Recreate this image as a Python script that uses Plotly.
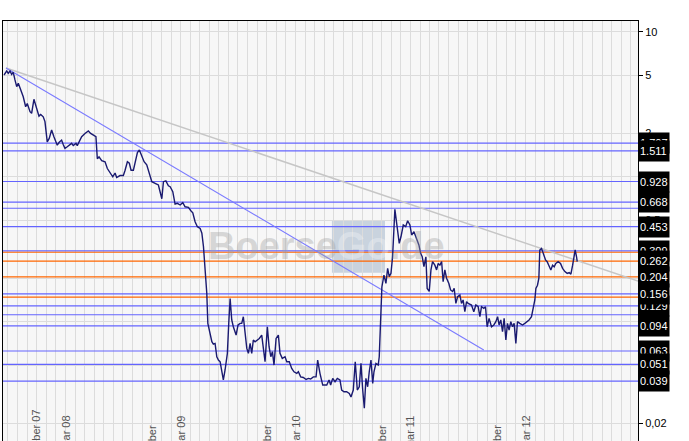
import math
import pandas as pd
import plotly.graph_objects as go

# ---------------- data ----------------
# price series: time as decimal year, price
price_t = [
    2007.464, 2007.487, 2007.501, 2007.516, 2007.530, 2007.544, 2007.559, 2007.574, 2007.588, 2007.609,
    2007.631, 2007.652, 2007.666, 2007.690, 2007.704, 2007.724, 2007.748, 2007.768, 2007.783, 2007.805,
    2007.820, 2007.840, 2007.857, 2007.878, 2007.898, 2007.916, 2007.927, 2007.944, 2007.965, 2007.979,
    2007.994, 2008.014, 2008.037, 2008.052, 2008.066, 2008.090, 2008.101, 2008.118, 2008.139, 2008.168,
    2008.197, 2008.217, 2008.240, 2008.263, 2008.275, 2008.290, 2008.313, 2008.342, 2008.362, 2008.385,
    2008.409, 2008.429, 2008.443, 2008.472, 2008.501, 2008.516, 2008.536, 2008.553, 2008.568, 2008.588,
    2008.603, 2008.623, 2008.640, 2008.661, 2008.681, 2008.704, 2008.724, 2008.748, 2008.777, 2008.805,
    2008.835, 2008.849, 2008.870, 2008.892, 2008.907,
    2008.930, 2008.950, 2008.970, 2008.994, 2009.017, 2009.037, 2009.066, 2009.087, 2009.104, 2009.124,
    2009.144, 2009.168, 2009.183, 2009.197, 2009.211, 2009.226, 2009.235, 2009.249, 2009.270, 2009.283,
    2009.298, 2009.313, 2009.327, 2009.342, 2009.357, 2009.370, 2009.385, 2009.405, 2009.417, 2009.429,
    2009.443, 2009.457, 2009.481, 2009.498, 2009.516, 2009.530, 2009.544, 2009.559, 2009.574, 2009.588,
    2009.603, 2009.617, 2009.631, 2009.646, 2009.666, 2009.683, 2009.704, 2009.718, 2009.733, 2009.753,
    2009.768, 2009.783, 2009.797, 2009.811, 2009.829, 2009.849, 2009.863, 2009.883, 2009.907, 2009.922,
    2009.944, 2009.965, 2009.985, 2010.009, 2010.023, 2010.043, 2010.066, 2010.090, 2010.110, 2010.130,
    2010.153, 2010.177, 2010.191, 2010.211,
    2010.235, 2010.255, 2010.270, 2010.290, 2010.304, 2010.322, 2010.342, 2010.362, 2010.385, 2010.400,
    2010.420, 2010.443, 2010.466, 2010.481, 2010.501, 2010.518, 2010.536, 2010.553, 2010.568, 2010.583,
    2010.597, 2010.611, 2010.626, 2010.640, 2010.655, 2010.670, 2010.681, 2010.698, 2010.718, 2010.727,
    2010.739, 2010.750, 2010.768, 2010.785, 2010.800, 2010.814, 2010.829, 2010.843, 2010.863, 2010.883,
    2010.901, 2010.916, 2010.936, 2010.957, 2010.974, 2010.994, 2011.009, 2011.029, 2011.052, 2011.072,
    2011.087, 2011.101, 2011.116, 2011.133, 2011.144, 2011.162, 2011.177, 2011.191, 2011.211, 2011.226,
    2011.240, 2011.255, 2011.270, 2011.283, 2011.298, 2011.313, 2011.333, 2011.348, 2011.365, 2011.379,
    2011.394, 2011.409, 2011.429, 2011.443, 2011.457, 2011.472, 2011.487,
    2011.501, 2011.530, 2011.550, 2011.568, 2011.588, 2011.603, 2011.617, 2011.637, 2011.652, 2011.666,
    2011.683, 2011.704, 2011.724, 2011.742, 2011.757, 2011.770, 2011.785, 2011.800, 2011.814, 2011.829,
    2011.843, 2011.857, 2011.872, 2011.887, 2011.901, 2011.916, 2011.930, 2011.950, 2011.974, 2011.994,
    2012.014, 2012.031, 2012.052, 2012.066, 2012.081, 2012.090, 2012.104, 2012.116, 2012.124, 2012.139,
    2012.153, 2012.174, 2012.188, 2012.203, 2012.220, 2012.235, 2012.249, 2012.263, 2012.283, 2012.304,
    2012.322, 2012.342, 2012.362, 2012.379, 2012.394, 2012.409, 2012.423, 2012.431, 2012.443, 2012.449,
]
price_v = [
    5.03, 5.36, 5.17, 5.36, 5.08, 5.25, 4.65, 4.18, 4.41, 3.97,
    3.56, 3.04, 3.20, 2.81, 2.74, 3.42, 2.96, 2.62, 2.69, 2.59,
    2.40, 1.74, 1.84, 2.10, 1.89, 1.70, 1.65, 1.73, 1.79, 1.67,
    1.57, 1.61, 1.67, 1.70, 1.64, 1.70, 1.64, 1.76, 1.89, 1.99,
    2.07, 1.99, 1.94, 1.89, 1.33, 1.37, 1.29, 1.27, 1.14, 1.06,
    1.00, 1.06, 0.988, 1.02, 1.02, 1.11, 1.27, 1.24, 1.11, 1.11,
    1.27, 1.47, 1.53, 1.41, 1.27, 1.21, 1.08, 0.925, 0.901, 0.878,
    0.706, 0.925, 0.936, 0.867, 0.854,
    0.789, 0.649, 0.656, 0.639, 0.663, 0.621, 0.615, 0.584, 0.565, 0.490,
    0.453, 0.441, 0.408, 0.330, 0.240, 0.157, 0.0977, 0.0855, 0.0730, 0.0703,
    0.0711, 0.0575, 0.0546, 0.0531, 0.0466, 0.0398, 0.0466, 0.0607, 0.0977, 0.145,
    0.1031, 0.0926, 0.0811, 0.0952, 0.0977, 0.0977, 0.1085, 0.0833, 0.0656, 0.0607,
    0.0711, 0.0607, 0.0750, 0.0730, 0.0750, 0.0769, 0.0811, 0.0674, 0.0531, 0.0926,
    0.0674, 0.0575, 0.0623, 0.0504, 0.0769, 0.0811, 0.0607, 0.0560, 0.0575, 0.0531,
    0.0531, 0.0478, 0.0453, 0.0442, 0.0453, 0.0418, 0.0414, 0.0401, 0.0408, 0.0404,
    0.0418, 0.0418, 0.0546, 0.0442,
    0.0367, 0.0367, 0.0367, 0.0398, 0.0367, 0.0408, 0.0387, 0.0408, 0.0398, 0.0339,
    0.0330, 0.0330, 0.0321, 0.0304, 0.0339, 0.0531, 0.0339, 0.0357, 0.0518, 0.0339,
    0.0254, 0.0408, 0.0357, 0.0453, 0.0546, 0.0377, 0.0453, 0.0518, 0.0504, 0.0575,
    0.0977, 0.174, 0.210, 0.184, 0.234, 0.205, 0.216, 0.281, 0.596, 0.441,
    0.348, 0.386, 0.465, 0.453, 0.498, 0.465, 0.397, 0.418, 0.367, 0.339,
    0.297, 0.281, 0.240, 0.281, 0.170, 0.162, 0.228, 0.260, 0.246, 0.228,
    0.253, 0.246, 0.260, 0.189, 0.228, 0.200, 0.184, 0.166, 0.162, 0.170,
    0.134, 0.149, 0.153, 0.134, 0.1416, 0.1175, 0.1378,
    0.134, 0.1307, 0.1175, 0.1307, 0.1272, 0.1085, 0.1272, 0.124, 0.1272, 0.0926,
    0.1057, 0.0926, 0.0952, 0.1003, 0.1085, 0.0952, 0.1031, 0.0855, 0.1057, 0.0750,
    0.0977, 0.0879, 0.1003, 0.0926, 0.0977, 0.0711, 0.1003, 0.0977, 0.0952, 0.0977,
    0.1003, 0.1031, 0.1085, 0.1208, 0.1416, 0.170, 0.179, 0.200, 0.313, 0.321,
    0.297, 0.267, 0.260, 0.246, 0.228, 0.246, 0.240, 0.253, 0.260, 0.253,
    0.234, 0.222, 0.216, 0.219, 0.213, 0.246, 0.305, 0.313, 0.281, 0.260,
]

# horizontal support / resistance levels
level_vals = [1.707, 1.511, 0.928, 0.668, 0.607, 0.453, 0.309, 0.302, 0.262, 0.204,
              0.156, 0.148, 0.129, 0.112, 0.094, 0.063, 0.051, 0.039]
level_kind = ["b", "b", "b", "b", "b", "b", "b", "o", "o", "o",
              "b", "o", "b", "b", "b", "b", "b", "b"]
# labelled levels, in drawing order (later ones on top)
label_vals = [1.707, 1.511, 0.928, 0.668, 0.453, 0.309, 0.262, 0.204,
              0.129, 0.156, 0.094, 0.063, 0.051, 0.039]

# trend lines (decimal year, price)
trend_blue_t = [2007.481, 2011.637]
trend_blue_v = [5.62, 0.064]
trend_gray_t = [2007.481, 2012.977]
trend_gray_v = [5.62, 0.191]

# axes
ytick_vals = [0.02, 0.05, 0.1, 0.2, 0.5, 1, 2, 5, 10]
ytick_text = ["0,02", "0,05", "0,1", "0,2", "0,5", "1", "2", "5", "10"]
xlabel_dates = ["2007-10-01", "2008-01-01", "2008-10-01", "2009-01-01", "2009-10-01",
                "2010-01-01", "2010-10-01", "2011-01-01", "2011-10-01", "2012-01-01"]
xlabel_text = ["Oktober 07", "Januar 08", "Oktober", "Januar 09", "Oktober",
               "Januar 10", "Oktober", "Januar 11", "Oktober", "Januar 12"]
x_range_t = [2007.4548, 2012.9765]
y_range = [0.01510, 11.85]


def dy(t):
    y = int(math.floor(t))
    a = pd.Timestamp(y, 1, 1)
    b = pd.Timestamp(y + 1, 1, 1)
    return a + (b - a) * (t - y)


BLUE = "#6464ff"
ORANGE = "#ff6600"
FONT = "Arial, Liberation Sans, sans-serif"

xr = [dy(t) for t in x_range_t]

fig = go.Figure()

# level lines
for v, k in zip(level_vals, level_kind):
    fig.add_trace(go.Scatter(
        x=xr, y=[v, v], mode="lines",
        line=dict(color=BLUE if k == "b" else ORANGE, width=1.2),
        hoverinfo="skip", showlegend=False))

# trend lines
fig.add_trace(go.Scatter(x=[dy(t) for t in trend_gray_t], y=trend_gray_v, mode="lines",
                         line=dict(color="#c6c6c6", width=1.5), showlegend=False))
fig.add_trace(go.Scatter(x=[dy(t) for t in trend_blue_t], y=trend_blue_v, mode="lines",
                         line=dict(color="#7a7aff", width=1.1), showlegend=False))

# price
fig.add_trace(go.Scatter(x=[dy(t) for t in price_t], y=price_v, mode="lines",
                         line=dict(color="#1a1a70", width=1.4), showlegend=False))

annotations = []
# level labels on right
for v in label_vals:
    annotations.append(dict(
        x=1, xref="paper", xanchor="left", y=math.log10(v), yref="y", yanchor="middle",
        text=f"{v:.3f}", showarrow=False, bgcolor="black", width=28, height=18,
        borderpad=1, align="left", font=dict(family=FONT, size=11, color="white")))

# date labels (rotated, partly cut by the lower edge)
for d, txt in zip(xlabel_dates, xlabel_text):
    annotations.append(dict(
        x=d, xref="x", y=-0.06, yref="paper", yanchor="bottom", xanchor="center",
        text=txt, textangle=-90, showarrow=False,
        font=dict(family=FONT, size=11, color="#555555")))

# watermark
annotations.append(dict(
    x=0.5087, y=0.464, xref="paper", yref="paper", xanchor="center", yanchor="middle",
    text="Boerse<span style='color:rgba(255,255,255,0.8)'>Go</span>.de", showarrow=False,
    font=dict(family=FONT, size=38, color="rgba(160,160,160,0.38)", weight="bold")))

fig.update_layout(
    width=689, height=441,
    margin=dict(l=3, r=51, t=21, b=0),
    paper_bgcolor="white", plot_bgcolor="#f7f7f7",
    showlegend=False,
    annotations=annotations,
    shapes=[dict(type="rect", xref="paper", yref="paper", x0=0.518, x1=0.6016,
                 y0=0.4007, y1=0.5245, fillcolor="#c9d3de", line=dict(width=0),
                 layer="below")],
    xaxis=dict(type="date", range=xr, side="top", showticklabels=False,
               dtick="M1", tick0="2007-01-01", showgrid=True, gridcolor="#dcdcdc",
               gridwidth=1, showline=True, linecolor="black", linewidth=1,
               zeroline=False, ticks=""),
    yaxis=dict(type="log", range=[math.log10(y_range[0]), math.log10(y_range[1])],
               side="right", tickvals=ytick_vals, ticktext=ytick_text,
               ticks="outside", ticklen=4, tickcolor="black",
               tickfont=dict(family=FONT, size=11, color="black"),
               showgrid=True, gridcolor="#dcdcdc", showline=True, mirror=True,
               linecolor="black", linewidth=1, zeroline=False),
)

fig.write_html("out.html", config={"displayModeBar": False},
               post_script="document.body.style.margin='0';document.body.style.overflow='hidden';")
